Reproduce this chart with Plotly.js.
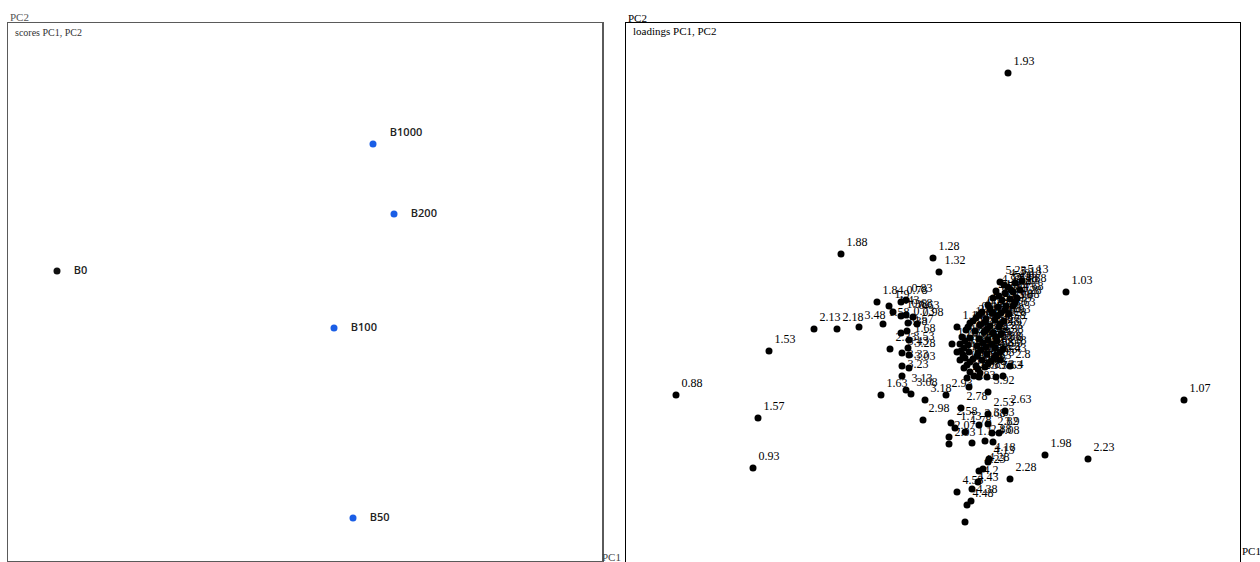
<!DOCTYPE html>
<html><head><meta charset="utf-8">
<script src="https://cdn.plot.ly/plotly-3.0.1.min.js"></script>
<style>html,body{margin:0;padding:0;background:#fff;}#chart{width:1260px;height:562px;}</style>
</head><body><div id="chart"></div>
<script>
// ---- scores (PC1, PC2) ----
const scoreNames = ["B1000", "B200", "B0", "B100", "B50"];
const scorePC1 = [0.68, 0.89, -2.48, 0.29, 0.48];
const scorePC2 = [1.485, 0.785, 0.215, -0.355, -2.255];

// ---- loadings (PC1, PC2) ----
const loadLabels = [
 "1.93","1.88","1.28","1.32","1.03","1.53","0.88","1.07","1.57","0.93","1.98","2.23","2.28","2.13","2.18","3.48",
 "1.84","1.9","1.43","0.78","0.83","1.58","1.38","0.68","0.63","0.98","0.73","3.38","0.57","1.68","2.33","3.43","3.53","3.28","3.33","3.03","3.23","1.63","3.13","3.08","3.18","2.98",
 "5.23","5.08","5.18","5.13","5.03","4.98","4.93","4.88","4.83","4.78","4.73","4.68","4.63","4.03","3.98","3.88",
 "0.75","3.78","3.73","3.63","0.65","3.58","3.68","3.93","1.18","0.6","3.83","4.58","1.23","0.53","1.13","2.48","3.97",
 "1.08","0.98","0.48","2.43","2.38","1.33","1.38","0.58","2.58","2.88","3.8","1.48","1.43","2.53","2.68","2.93",
 "1.53","1.58","2.58","2.73","1.63","1.68","2.63","1.73","2.78","1.13","1.28","2.4","2.8","3.43",
 "2.9","2.73","3.73","3.63","2.83","3.92","2.93",
 "2.78","2.53","2.63","2.58","1.73","2.68","3.83","2.07","2.03","1.78","1.1","2.88","2.82","4.08","3.9",
 "4.18","4.13","4.28","4.23","4.2","4.43","4.53","4.38","4.48","",
 "4.43","4.38","4.33","4.28","4.23","4.13","4.08","3.03","2.98","3.33","3.28","1.03","2.33","2.23","1.58",
 "2.18","2.13","1.73","2.28","3.18","1.78","1.83","3.23","1.93","2.03","1.88","2.08","2.98","1.68","1.62"
];
const loadPC1 = [
 0.075,-0.092,0.000,0.006,0.133,-0.164,-0.257,0.251,-0.175,-0.180,0.112,0.155,0.077,-0.119,-0.096,-0.074,
 -0.056,-0.044,-0.040,-0.032,-0.027,-0.050,-0.032,-0.027,-0.020,-0.016,-0.025,-0.032,-0.026,-0.024,-0.043,-0.031,-0.025,-0.024,-0.031,-0.024,-0.031,-0.052,-0.027,-0.022,-0.008,-0.010,
 0.067,0.075,0.082,0.089,0.080,0.072,0.063,0.087,0.069,0.060,0.077,0.084,0.055,0.065,0.073,0.080,
 0.049,0.059,0.068,0.076,0.043,0.053,0.062,0.071,0.037,0.047,0.057,0.066,0.033,0.042,0.051,0.060,0.068,
 0.029,0.037,0.046,0.055,0.064,0.027,0.035,0.044,0.053,0.062,0.070,0.028,0.036,0.045,0.054,0.063,
 0.032,0.040,0.049,0.058,0.034,0.043,0.052,0.037,0.047,0.024,0.019,0.070,0.077,0.067,
 0.034,0.046,0.054,0.063,0.036,0.055,0.013,
 0.028,0.055,0.072,0.018,0.022,0.046,0.055,0.016,0.016,0.032,0.039,0.052,0.059,0.060,0.066,
 0.056,0.055,0.050,0.046,0.045,0.039,0.024,0.038,0.034,0.032,
 0.071,0.078,0.066,0.082,0.057,0.072,0.046,0.064,0.040,0.052,0.067,0.035,0.054,0.063,0.032,
 0.050,0.059,0.031,0.048,0.067,0.030,0.044,0.061,0.037,0.055,0.031,0.045,0.041,0.027,0.024
];
const loadPC2 = [
 0.220,0.039,0.035,0.021,0.001,-0.058,-0.102,-0.107,-0.125,-0.175,-0.162,-0.166,-0.186,-0.036,-0.036,-0.034,
 -0.009,-0.013,-0.019,-0.009,-0.007,-0.031,-0.023,-0.022,-0.024,-0.031,-0.030,-0.040,-0.038,-0.047,-0.056,-0.060,-0.055,-0.062,-0.073,-0.075,-0.083,-0.102,-0.097,-0.101,-0.107,-0.127,
 0.011,0.006,0.010,0.012,0.001,0.000,0.002,0.003,-0.007,-0.005,-0.006,-0.005,-0.012,-0.014,-0.013,-0.013,
 -0.019,-0.020,-0.020,-0.021,-0.025,-0.026,-0.027,-0.028,-0.030,-0.032,-0.033,-0.034,-0.037,-0.038,-0.039,-0.040,-0.041,
 -0.044,-0.045,-0.046,-0.047,-0.048,-0.051,-0.052,-0.053,-0.054,-0.055,-0.056,-0.058,-0.059,-0.060,-0.061,-0.062,
 -0.065,-0.066,-0.067,-0.068,-0.072,-0.073,-0.074,-0.079,-0.080,-0.034,-0.051,-0.083,-0.073,-0.067,
 -0.085,-0.084,-0.084,-0.084,-0.094,-0.099,-0.102,
 -0.115,-0.121,-0.118,-0.130,-0.135,-0.132,-0.131,-0.144,-0.151,-0.139,-0.150,-0.148,-0.140,-0.149,-0.140,
 -0.166,-0.169,-0.176,-0.178,-0.189,-0.196,-0.199,-0.208,-0.212,-0.229,
 0.008,0.003,-0.003,-0.009,-0.016,-0.017,-0.022,-0.023,-0.028,-0.029,-0.031,-0.034,-0.036,-0.044,-0.048,
 -0.050,-0.051,-0.055,-0.057,-0.059,-0.062,-0.063,-0.065,-0.069,-0.071,-0.075,-0.076,-0.083,-0.067,-0.059
];

const scoreColors = scoreNames.map(n => n === "B0" ? "#111111" : "#1a5ee6");
const scorePos = scoreNames.map(n => n === "B1000" ? "top right" : "middle right");
const scoreText = scoreNames.map(n => "    " + n);

const traces = [
 {type: "scatter", mode: "markers+text", x: scorePC1, y: scorePC2, text: scoreText,
  textposition: scorePos, xaxis: "x", yaxis: "y",
  marker: {size: 7, color: scoreColors},
  textfont: {family: "Open Sans, Liberation Sans, sans-serif", size: 11, weight: 600, color: "#222"},
  cliponaxis: false, hoverinfo: "text"},
 {type: "scatter", mode: "markers+text", x: loadPC1, y: loadPC2, text: loadLabels,
  textposition: "top right", xaxis: "x2", yaxis: "y2",
  marker: {size: 7, color: "#000"},
  textfont: {family: "Liberation Serif, Times New Roman, serif", size: 12, color: "#000"},
  cliponaxis: true, hoverinfo: "text"}
];

const hidden = {showgrid: false, zeroline: false, showticklabels: false, ticks: ""};
const W = 1260, H = 562;
const layout = {
 width: W, height: H, margin: {l: 0, r: 0, t: 0, b: 0},
 paper_bgcolor: "#fff", plot_bgcolor: "#fff", showlegend: false,
 xaxis: Object.assign({}, hidden, {anchor: "y", domain: [8/W, 602/W], range: [-2.97, 2.97],
   showline: true, mirror: true, linecolor: "#5a5a5a", linewidth: 1.5}),
 yaxis: Object.assign({}, hidden, {anchor: "x", domain: [1/H, (H-23)/H], range: [-2.685, 2.695],
   showline: true, mirror: true, linecolor: "#5a5a5a", linewidth: 1.5}),
 xaxis2: Object.assign({}, hidden, {anchor: "y2", side: "top", domain: [626/W, 1240/W], range: [-0.307, 0.307],
   showline: true, mirror: false, linecolor: "#000", linewidth: 1}),
 yaxis2: Object.assign({}, hidden, {anchor: "x2", domain: [0, (H-23)/H], range: [-0.269, 0.270],
   showline: true, mirror: true, linecolor: "#000", linewidth: 1}),
 annotations: [
  {xref: "paper", yref: "paper", x: 8/W, y: (H-17)/H, text: "PC2", showarrow: false, xanchor: "left", yanchor: "middle",
   font: {family: "Liberation Serif, serif", size: 11, color: "#555"}},
  {xref: "paper", yref: "paper", x: 13/W, y: (H-32)/H, text: "scores PC1, PC2", showarrow: false, xanchor: "left", yanchor: "middle",
   font: {family: "Liberation Serif, serif", size: 10, color: "#333"}},
  {xref: "paper", yref: "paper", x: 600/W, y: (H-557)/H, text: "PC1", showarrow: false, xanchor: "left", yanchor: "middle",
   font: {family: "Liberation Serif, serif", size: 11, color: "#444"}},
  {xref: "paper", yref: "paper", x: 626/W, y: (H-18)/H, text: "PC2", showarrow: false, xanchor: "left", yanchor: "middle",
   font: {family: "Liberation Serif, serif", size: 11, color: "#000"}},
  {xref: "paper", yref: "paper", x: 631/W, y: (H-31)/H, text: "loadings PC1, PC2", showarrow: false, xanchor: "left", yanchor: "middle",
   font: {family: "Liberation Serif, serif", size: 11, color: "#000"}},
  {xref: "paper", yref: "paper", x: 1240/W, y: (H-551)/H, text: "PC1", showarrow: false, xanchor: "left", yanchor: "middle",
   font: {family: "Liberation Serif, serif", size: 11, color: "#000"}}
 ]
};
Plotly.newPlot("chart", traces, layout, {displayModeBar: false, staticPlot: true});
</script></body></html>
